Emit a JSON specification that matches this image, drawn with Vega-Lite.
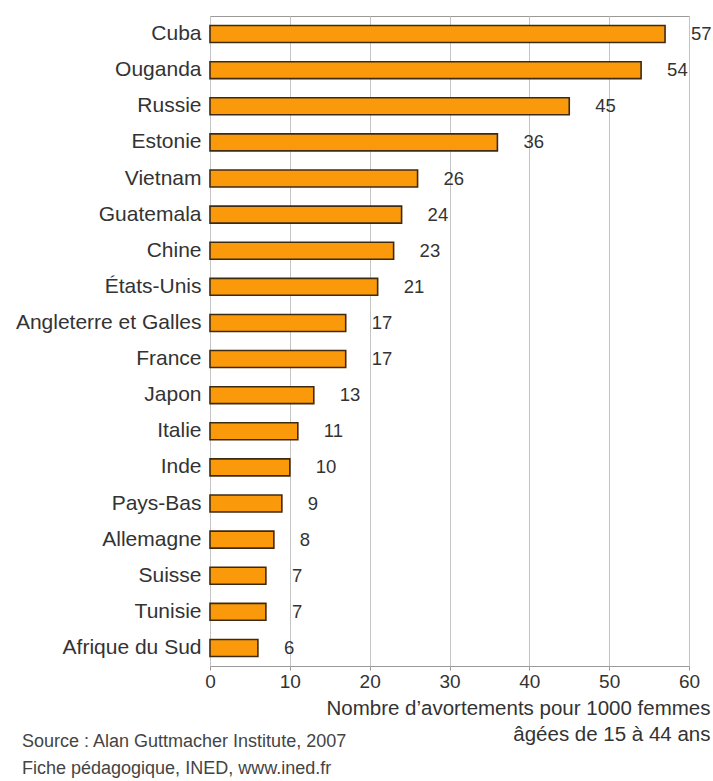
{
  "$schema": "https://vega.github.io/schema/vega-lite/v6.json",
  "autosize": {"type": "none"},
  "width": 479,
  "height": 650,
  "padding": {"left": 210, "top": 16, "right": 24, "bottom": 115},
  "background": "white",
  "config": {
    "font": "Liberation Sans",
    "view": {"stroke": "#9a9a9a", "strokeWidth": 1}
  },
  "title": {
    "text": ["Source : Alan Guttmacher Institute, 2007", "Fiche pédagogique, INED, www.ined.fr"],
    "orient": "bottom",
    "anchor": "start",
    "frame": "group",
    "dx": -188,
    "offset": -12,
    "fontSize": 18,
    "fontWeight": "normal",
    "color": "#444",
    "lineHeight": 27,
    "baseline": "top"
  },
  "data": {
    "values": [
      {"pays": "Cuba", "taux": 57},
      {"pays": "Ouganda", "taux": 54},
      {"pays": "Russie", "taux": 45},
      {"pays": "Estonie", "taux": 36},
      {"pays": "Vietnam", "taux": 26},
      {"pays": "Guatemala", "taux": 24},
      {"pays": "Chine", "taux": 23},
      {"pays": "États-Unis", "taux": 21},
      {"pays": "Angleterre et Galles", "taux": 17},
      {"pays": "France", "taux": 17},
      {"pays": "Japon", "taux": 13},
      {"pays": "Italie", "taux": 11},
      {"pays": "Inde", "taux": 10},
      {"pays": "Pays-Bas", "taux": 9},
      {"pays": "Allemagne", "taux": 8},
      {"pays": "Suisse", "taux": 7},
      {"pays": "Tunisie", "taux": 7},
      {"pays": "Afrique du Sud", "taux": 6}
    ]
  },
  "encoding": {
    "y": {
      "field": "pays",
      "type": "nominal",
      "sort": null,
      "scale": {"paddingInner": 0.53, "paddingOuter": 0.265},
      "axis": {
        "title": null,
        "domain": false,
        "ticks": false,
        "labelFontSize": 21,
        "labelColor": "#333",
        "labelPadding": 9,
        "labelLimit": 0
      }
    }
  },
  "layer": [
    {
      "mark": {"type": "bar", "fill": "#FA9A0A", "stroke": "#3f2a10", "strokeWidth": 1.6},
      "encoding": {
        "x": {
          "field": "taux",
          "type": "quantitative",
          "scale": {"domain": [0, 60], "nice": false},
          "axis": {
            "values": [0, 10, 20, 30, 40, 50, 60],
            "grid": true,
            "gridColor": "#c4c4c4",
            "domain": false,
            "tickSize": 4,
            "tickColor": "#9a9a9a",
            "labelFontSize": 19,
            "labelColor": "#333",
            "labelPadding": 2,
            "labelFlush": false,
            "title": ["Nombre d’avortements pour 1000 femmes", "âgées de 15 à 44 ans"],
            "titleFontSize": 20.5,
            "titleFontWeight": "normal",
            "titleColor": "#333",
            "titleAlign": "right",
            "titleAnchor": "end",
            "titleBaseline": "alphabetic",
            "titleX": 500,
            "titleY": 48,
            "titleLineHeight": 26
          }
        }
      }
    },
    {
      "mark": {"type": "text", "align": "left", "baseline": "middle", "dx": 26, "fontSize": 18.5, "color": "#333"},
      "encoding": {
        "x": {"field": "taux", "type": "quantitative"},
        "text": {"field": "taux", "type": "quantitative"}
      }
    }
  ]
}
